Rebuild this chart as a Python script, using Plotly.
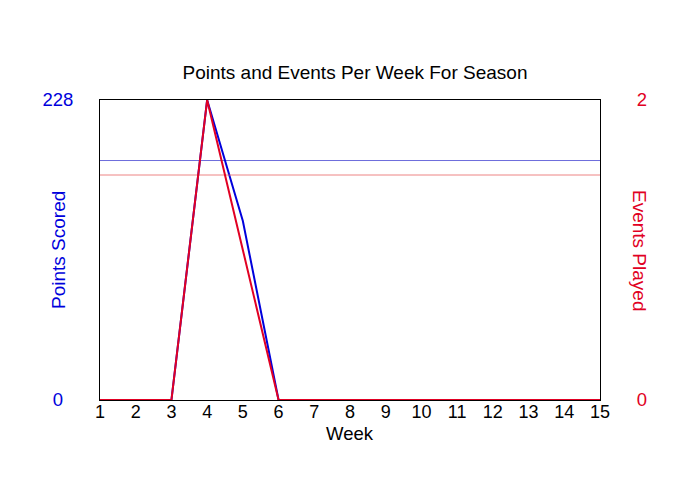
import plotly.graph_objects as go

weeks = list(range(1, 16))
points = [0, 0, 0, 228, 136, 0, 0, 0, 0, 0, 0, 0, 0, 0, 0]
events = [0, 0, 0, 2, 1, 0, 0, 0, 0, 0, 0, 0, 0, 0, 0]
pts_ticks = [0, 228]
ev_ticks = [0, 2]

blue = "rgb(0,0,220)"
red = "rgb(225,0,35)"

# average over weeks that were actually played
played_pts = [p for p in points if p > 0]
played_ev = [e for e in events if e > 0]
avg_pts = sum(played_pts) / len(played_pts)
avg_ev = sum(played_ev) / len(played_ev)

fig = go.Figure()
fig.add_trace(go.Scatter(x=[weeks[0], weeks[-1]], y=[avg_pts, avg_pts], mode="lines",
                         line=dict(color="rgba(70,70,210,0.8)", width=1), yaxis="y", showlegend=False))
fig.add_trace(go.Scatter(x=[weeks[0], weeks[-1]], y=[avg_ev, avg_ev], mode="lines",
                         line=dict(color="rgba(230,80,80,0.7)", width=1), yaxis="y2", showlegend=False))
fig.add_trace(go.Scatter(x=weeks, y=points, mode="lines", line=dict(color=blue, width=2),
                         yaxis="y", showlegend=False, cliponaxis=False))
fig.add_trace(go.Scatter(x=weeks, y=events, mode="lines", line=dict(color=red, width=2),
                         yaxis="y2", showlegend=False, cliponaxis=False))

# axis titles as annotations so they sit exactly where the reference has them
fig.add_annotation(text="Points Scored", xref="paper", yref="paper", x=-0.084, y=0.5,
                   xanchor="center", yanchor="middle",
                   textangle=-90, showarrow=False, font=dict(color=blue, size=19))
fig.add_annotation(text="Events Played", xref="paper", yref="paper", x=1.08, y=0.5,
                   xanchor="center", yanchor="middle",
                   textangle=90, showarrow=False, font=dict(color=red, size=19))
fig.add_annotation(text="Week", xref="paper", yref="paper", x=0.5, y=-0.11,
                   xanchor="center", yanchor="middle", showarrow=False,
                   font=dict(color="black", size=18.5))

# left labels are centred in the reference, pad the short one
pts_text = [str(v) + ("\u00a0\u00a0" if len(str(v)) == 1 else "") for v in pts_ticks]

fig.update_layout(
    width=700, height=500,
    margin=dict(l=92, r=108, t=92, b=108),
    paper_bgcolor="white", plot_bgcolor="white",
    font=dict(family="Liberation Sans, Arial", size=18, color="black"),
    title=dict(text="Points and Events Per Week For Season", x=0.4957, y=0.872,
               xanchor="center", yanchor="middle", font=dict(size=19, color="black")),
    xaxis=dict(range=[1, 15], tickvals=weeks, showgrid=False, zeroline=False,
               showline=True, linecolor="black", linewidth=1, mirror=True, layer="below traces",
               ticks="", ticklabelstandoff=-5, tickfont=dict(size=18), automargin=False),
    yaxis=dict(range=[0, 228], tickvals=pts_ticks, ticktext=pts_text, showgrid=False, zeroline=False,
               showline=True, linecolor="black", linewidth=1, layer="below traces",
               ticks="", ticklabelstandoff=22, automargin=False,
               tickfont=dict(color=blue, size=18.5)),
    yaxis2=dict(range=[0, 2], tickvals=ev_ticks, overlaying="y", side="right",
                showgrid=False, zeroline=False, showline=True, linecolor="black", linewidth=1,
                layer="below traces",
                ticks="", ticklabelstandoff=32, automargin=False,
                tickfont=dict(color=red, size=18.5)),
)

fig.write_html("out.html")
